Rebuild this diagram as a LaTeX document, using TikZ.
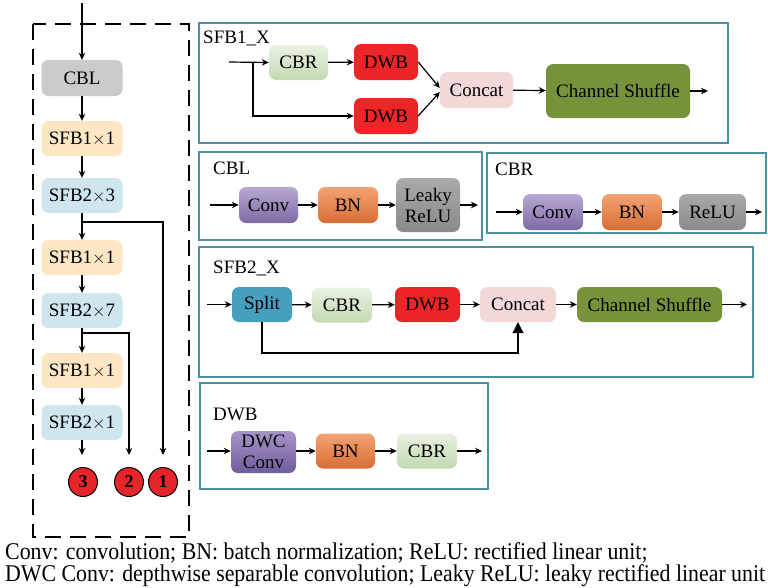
\documentclass[tikz,border=0pt]{standalone}
\usepackage{fontspec}
\setmainfont{Liberation Serif}
\usetikzlibrary{arrows.meta,calc}
\definecolor{panelc}{HTML}{4D8FA3}
\definecolor{cblc}{HTML}{CBCBCB}
\definecolor{sfbone}{HTML}{FCE6C4}
\definecolor{sfbtwo}{HTML}{CFE6EF}
\definecolor{circred}{HTML}{E4252A}
\definecolor{dwbc}{HTML}{EE2526}
\definecolor{concatc}{HTML}{F2D8D8}
\definecolor{csc}{HTML}{76933C}
\definecolor{splitc}{HTML}{44A0BE}
\definecolor{convtop}{HTML}{B7A9D2}
\definecolor{convbot}{HTML}{7D6AA6}
\definecolor{bntop}{HTML}{F2A373}
\definecolor{bnbot}{HTML}{D86D35}
\definecolor{cbrtop}{HTML}{E9F2E1}
\definecolor{cbrbot}{HTML}{C3D9B2}
\definecolor{graytop}{HTML}{AAAAAA}
\definecolor{graybot}{HTML}{8A8A8A}
\definecolor{dwctop}{HTML}{A695C9}
\definecolor{dwcbot}{HTML}{6F5C9C}
\begin{document}
\begin{tikzpicture}[x={(1pt,0pt)},y={(0pt,-1pt)},
  blk/.style={rounded corners=7pt, inner sep=0pt, align=center, font=\fontsize{19}{21}\selectfont},
  arr/.style={-{Stealth[length=7pt,width=6.5pt]}, line width=1.2pt},
  bigarr/.style={-{Triangle[length=11pt,width=11pt]}, line width=1.2pt},
  panel/.style={draw=panelc, line width=1.6pt},
  lbl/.style={anchor=west, inner sep=0pt, font=\fontsize{19}{21}\selectfont},
  circ/.style={circle, draw=black, line width=1pt, fill=circred, minimum size=29pt, inner sep=0pt, font=\bfseries\fontsize{18}{18}\selectfont},
  conv/.style={blk, top color=convtop, bottom color=convbot},
  bn/.style={blk, top color=bntop, bottom color=bnbot},
  cbr/.style={blk, top color=cbrtop, bottom color=cbrbot},
  grayb/.style={blk, top color=graytop, bottom color=graybot},
  dwb/.style={blk, fill=dwbc},
  cat/.style={blk, fill=concatc},
  cs/.style={blk, fill=csc},
  foot/.style={anchor=west, inner sep=0pt, font=\fontsize{24}{26}\selectfont},
  dashbox/.style={line width=1.8pt, dash pattern=on 16pt off 9pt}
]
\useasboundingbox (0,0) rectangle (768,587);

% ---------------- left column ----------------
\draw[dashbox] (33,24) rectangle (189,537);
\node[blk, fill=cblc, minimum width=81pt, minimum height=36pt] (cbl) at (82,78) {CBL};
\node[blk, fill=sfbone, minimum width=81pt, minimum height=35pt] (s1a) at (82,138.5) {SFB1$\times$1};
\node[blk, fill=sfbtwo, minimum width=81pt, minimum height=35pt] (s2a) at (82,195.5) {SFB2$\times$3};
\node[blk, fill=sfbone, minimum width=81pt, minimum height=35pt] (s1b) at (82,257.5) {SFB1$\times$1};
\node[blk, fill=sfbtwo, minimum width=81pt, minimum height=35pt] (s2b) at (82,310.5) {SFB2$\times$7};
\node[blk, fill=sfbone, minimum width=81pt, minimum height=35pt] (s1c) at (82,370.5) {SFB1$\times$1};
\node[blk, fill=sfbtwo, minimum width=81pt, minimum height=35pt] (s2c) at (82,422.5) {SFB2$\times$1};
\node[circ] (c3) at (83,482) {3};
\node[circ] (c2) at (129,482) {2};
\node[circ] (c1) at (163,482) {1};
\coordinate (top) at (82,3);
\coordinate (b1) at (82,222);
\coordinate (b2) at (82,333);
\coordinate (e1) at (163,455);
\coordinate (e2) at (129,455);
\coordinate (e3) at (82,455);
\draw[arr] (top) -- (cbl.north);
\draw[arr] (cbl) -- (s1a);
\draw[arr] (s1a) -- (s2a);
\draw[arr] (s2a) -- (s1b);
\draw[arr] (s1b) -- (s2b);
\draw[arr] (s2b) -- (s1c);
\draw[arr] (s1c) -- (s2c);
\draw[arr] (s2c.south) -- (e3);
\draw[arr] (b1) -| (e1);
\draw[arr] (b2) -| (e2);

% ---------------- SFB1_X ----------------
\draw[panel] (199,23) rectangle (728,143);
\node[lbl] (l1) at (203,38) {SFB1\_X};
\coordinate (i1) at (229,62);
\coordinate (j1) at (253,62);
\node[cbr, minimum width=59pt, minimum height=35pt] (cbra) at (298.5,62.5) {CBR};
\node[dwb, minimum width=64pt, minimum height=36pt] (dwba) at (386,62) {DWB};
\node[dwb, minimum width=64pt, minimum height=36pt] (dwbb) at (386,116) {DWB};
\node[cat, minimum width=73pt, minimum height=36pt] (cata) at (476.5,90) {Concat};
\node[cs, minimum width=144pt, minimum height=54pt] (csa) at (618,91) {Channel Shuffle};
\coordinate (o1) at (708,91);
\draw[arr] (i1) -- (cbra.west);
\draw[arr] (j1) |- (dwbb.west);
\draw[arr] (cbra) -- (dwba);
\draw[arr] (dwba.east) -- ($(cata.west)+(0,-2)$);
\draw[arr] (dwbb.east) -- ($(cata.west)+(0,2)$);
\draw[arr] (cata) -- (csa);
\draw[arr] (csa.east) -- (o1);

% ---------------- CBL ----------------
\draw[panel] (199,152) rectangle (482,240);
\node[lbl] (l2) at (213,168) {CBL};
\coordinate (i2) at (210,205);
\node[conv, minimum width=59pt, minimum height=36pt] (conva) at (268.5,205) {Conv};
\node[bn, minimum width=60pt, minimum height=36pt] (bna) at (348,205) {BN};
\node[grayb, minimum width=64pt, minimum height=54pt] (lrelu) at (428,205) {Leaky\\ReLU};
\coordinate (o2) at (478,205);
\draw[arr] (i2) -- (conva);
\draw[arr] (conva) -- (bna);
\draw[arr] (bna) -- (lrelu);
\draw[arr] (lrelu) -- (o2);

% ---------------- CBR ----------------
\draw[panel] (487,153) rectangle (766,233);
\node[lbl] (l3) at (495,169) {CBR};
\coordinate (i3) at (496,212);
\node[conv, minimum width=60pt, minimum height=36pt] (convb) at (553,212) {Conv};
\node[bn, minimum width=60pt, minimum height=36pt] (bnb) at (632,212) {BN};
\node[grayb, minimum width=67pt, minimum height=36pt] (relu) at (712.5,212) {ReLU};
\coordinate (o3) at (762,212);
\draw[arr] (i3) -- (convb);
\draw[arr] (convb) -- (bnb);
\draw[arr] (bnb) -- (relu);
\draw[arr] (relu) -- (o3);

% ---------------- SFB2_X ----------------
\draw[panel] (199,247) rectangle (753,377);
\node[lbl] (l4) at (213,268) {SFB2\_X};
\coordinate (i4) at (207,304.5);
\node[blk, fill=splitc, minimum width=60pt, minimum height=35pt] (split) at (262,304.5) {Split};
\node[cbr, minimum width=60pt, minimum height=35pt] (cbrb) at (342,305) {CBR};
\node[dwb, minimum width=65pt, minimum height=35pt] (dwbc) at (427.5,304.5) {DWB};
\node[cat, minimum width=76pt, minimum height=35pt] (catb) at (518,304.5) {Concat};
\node[cs, minimum width=145pt, minimum height=35pt] (csb) at (649.5,304.5) {Channel Shuffle};
\coordinate (o4) at (747,304.5);
\coordinate (fb) at (518,353);
\draw[arr] (i4) -- (split);
\draw[arr] (split) -- (cbrb);
\draw[arr] (cbrb) -- (dwbc);
\draw[arr] (dwbc) -- (catb);
\draw[arr] (catb) -- (csb);
\draw[arr] (csb) -- (o4);
\draw[bigarr] (split.south) |- (fb) -- (catb.south);

% ---------------- DWB ----------------
\draw[panel] (200,383) rectangle (488,489);
\node[lbl] (l5) at (213,414) {DWB};
\coordinate (i5) at (207,451);
\node[blk, top color=dwctop, bottom color=dwcbot, minimum width=65pt, minimum height=42pt] (dwc) at (263.5,452) {DWC\\Conv};
\node[bn, minimum width=59pt, minimum height=35pt] (bnc) at (345.5,451) {BN};
\node[cbr, minimum width=60pt, minimum height=35pt] (cbrc) at (427,451) {CBR};
\coordinate (o5) at (482,451);
\draw[arr] (i5) -- (dwc.west |- i5);
\draw[arr] (dwc.east |- bnc) -- (bnc);
\draw[arr] (bnc) -- (cbrc);
\draw[arr] (cbrc) -- (o5);

% ---------------- footer ----------------
\node[foot] (f1) at (5,553) {\scalebox{0.91}[1]{Conv: convolution; BN: batch normalization; ReLU: rectified linear unit;}};
\node[foot] (f2) at (5,576) {\scalebox{0.91}[1]{DWC Conv: depthwise separable convolution; Leaky ReLU: leaky rectified linear unit}};
\end{tikzpicture}
\end{document}
